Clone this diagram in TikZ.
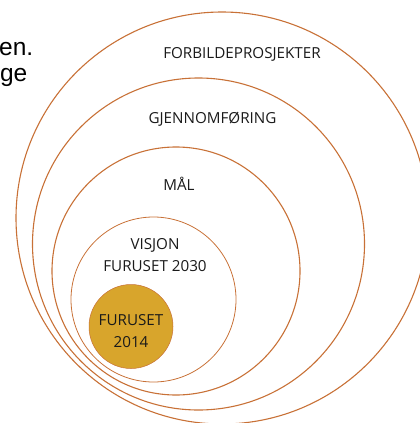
\documentclass[tikz,border=0pt]{standalone}
\usepackage{fontspec}
\setmainfont{Open Sans}
\newfontfamily\arialfont{Liberation Sans}
\definecolor{ring}{HTML}{C87137}
\definecolor{gold}{HTML}{D8A52C}
\definecolor{ink}{HTML}{1A1A1A}
\begin{document}
\begin{tikzpicture}[x=1pt,y=-1pt,
  ringc/.style={circle,draw=ring,line width=1.1pt,inner sep=0pt},
  lbl/.style={font=\fontsize{15.2}{21.5}\selectfont,text=ink,align=center,inner sep=0pt},
  side/.style={font=\arialfont\fontsize{24.5}{25}\selectfont,text=black,inner sep=0pt,anchor=base east}]
\useasboundingbox (0,0) rectangle (420,423);
\node[ringc,minimum size=412pt] (c1) at (222,218) {};
\node[ringc,minimum size=332pt] (c2) at (198.5,244) {};
\node[ringc,minimum size=248pt] (c3) at (176,271) {};
\node[ringc,minimum size=165pt,line width=0.8pt] (c4) at (153.5,299.5) {};
\node[circle,fill=gold,draw=ring,line width=0.5pt,minimum size=84pt,inner sep=0pt] (c5) at (131,326.5) {};
\node[lbl] (t1) at (242,54) {FORBILDEPROSJEKTER};
\node[lbl] (t2) at (212.5,119) {GJENNOMFØRING};
\node[lbl] (t3) at (179,184) {MÅL};
\node[lbl] (t4) at (155,255) {VISJON\\FURUSET 2030};
\node[lbl] (t5) at (131,331) {FURUSET\\2014};
\node[side] (s1) at (33.5,55.5) {en.};
\node[side] (s2) at (27.5,81) {ge};
\end{tikzpicture}
\end{document}
